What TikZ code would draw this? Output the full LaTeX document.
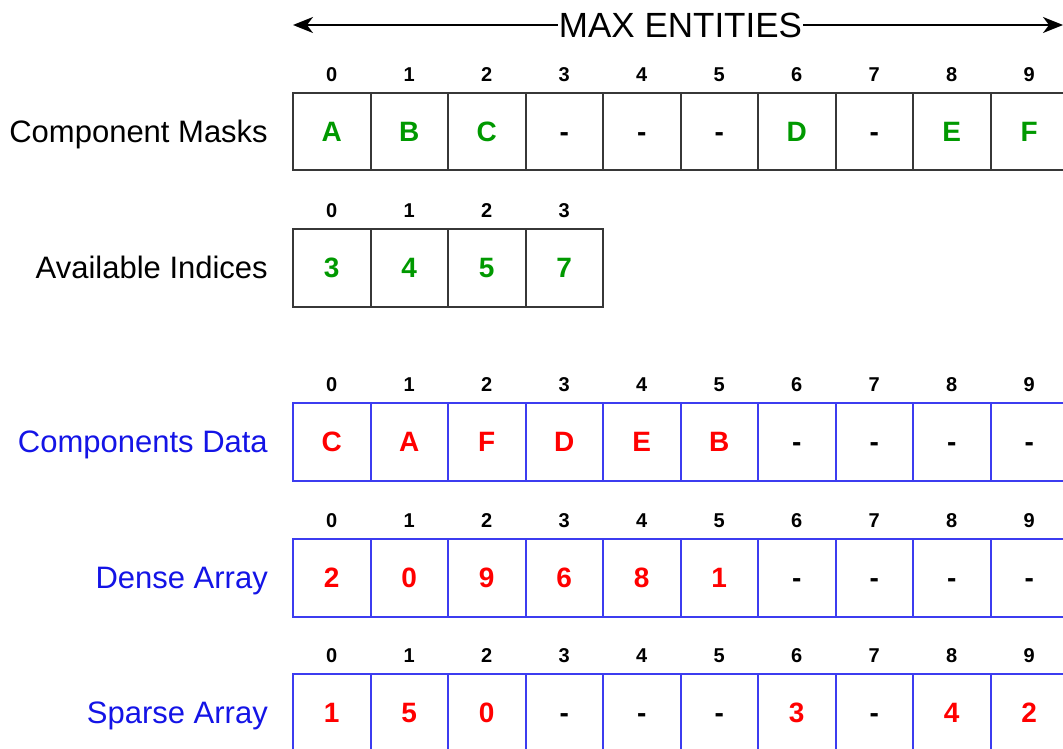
\documentclass[tikz,border=0pt]{standalone}
\usepackage{fontspec}
\setmainfont{Liberation Sans}
\usetikzlibrary{arrows.meta}
\definecolor{maskgreen}{RGB}{0,153,0}
\definecolor{arrblue}{RGB}{60,60,240}
\definecolor{txtblue}{RGB}{20,20,230}
\definecolor{valred}{RGB}{255,0,0}
\definecolor{edge}{RGB}{55,55,55}
\tikzset{
  cell/.style={draw=edge, line width=2pt, minimum size=77.5pt, inner sep=0pt,
    text height=20pt, text depth=0pt, font=\fontsize{28}{28}\selectfont\bfseries},
  bluecell/.style={cell, draw=arrblue},
  idx/.style={inner sep=0pt, font=\fontsize{20}{20}\selectfont\bfseries},
  rowlabel/.style={anchor=east, inner sep=0pt, text height=22pt, text depth=0pt,
    font=\fontsize{31}{31}\selectfont},
}

\begin{document}
\begin{tikzpicture}[x=1pt, y=-1pt]
  \useasboundingbox (0,0) rectangle (1063,749);
  % max entities arrow
  \node[inner sep=1pt, font=\fontsize{35}{35}\selectfont] (title) at (680.5,25) {MAX ENTITIES};
  \coordinate (maxl) at (293,25);
  \coordinate (maxr) at (1063,25);
  \draw[line width=2pt, -{Stealth[length=20pt, width=16pt, inset=6pt]}] (title.west) -- (maxl);
  \draw[line width=2pt, -{Stealth[length=20pt, width=16pt, inset=6pt]}] (title.east) -- (maxr);

  % component masks
  \node[rowlabel] (lblmask) at (268,131.75) {Component Masks};
  \foreach \v/\c [count=\i from 0] in {A/maskgreen, B/maskgreen, C/maskgreen, -/black, -/black,
      -/black, D/maskgreen, -/black, E/maskgreen, F/maskgreen} {
    \node[cell, text=\c] (mask\i) at (331.75+77.5*\i,131.75) {\v};
    \node[idx] (maskidx\i) at (331.75+77.5*\i,75) {\i};
  }

  % available indices
  \node[rowlabel] (lblfree) at (268,267.75) {Available Indices};
  \foreach \v [count=\i from 0] in {3,4,5,7} {
    \node[cell, text=maskgreen] (free\i) at (331.75+77.5*\i,267.75) {\v};
    \node[idx] (freeidx\i) at (331.75+77.5*\i,211) {\i};
  }

  % components data
  \node[rowlabel, text=txtblue] (lbldata) at (268,441.75) {Components Data};
  \foreach \v/\c [count=\i from 0] in {C/valred, A/valred, F/valred, D/valred, E/valred,
      B/valred, -/black, -/black, -/black, -/black} {
    \node[bluecell, text=\c] (data\i) at (331.75+77.5*\i,441.75) {\v};
    \node[idx] (dataidx\i) at (331.75+77.5*\i,385) {\i};
  }

  % dense array
  \node[rowlabel, text=txtblue] (lbldense) at (268,577.75) {Dense Array};
  \foreach \v/\c [count=\i from 0] in {2/valred, 0/valred, 9/valred, 6/valred, 8/valred,
      1/valred, -/black, -/black, -/black, -/black} {
    \node[bluecell, text=\c] (dense\i) at (331.75+77.5*\i,577.75) {\v};
    \node[idx] (denseidx\i) at (331.75+77.5*\i,521) {\i};
  }

  % sparse array
  \node[rowlabel, text=txtblue] (lblsparse) at (268,712.75) {Sparse Array};
  \foreach \v/\c [count=\i from 0] in {1/valred, 5/valred, 0/valred, -/black, -/black,
      -/black, 3/valred, -/black, 4/valred, 2/valred} {
    \node[bluecell, text=\c] (sparse\i) at (331.75+77.5*\i,712.75) {\v};
    \node[idx] (sparseidx\i) at (331.75+77.5*\i,656) {\i};
  }
\end{tikzpicture}
\end{document}
